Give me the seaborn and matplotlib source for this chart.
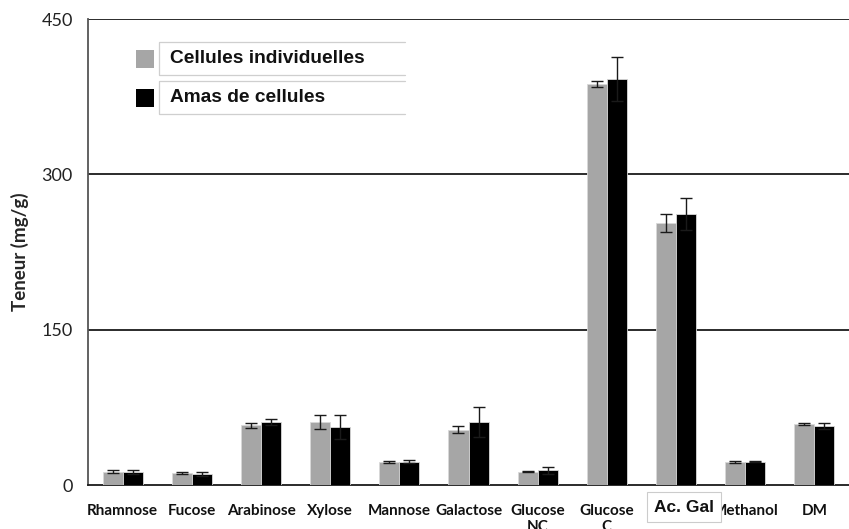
import numpy as np
import pandas as pd
import matplotlib
matplotlib.use("Agg")
import matplotlib.pyplot as plt
from matplotlib.patches import Rectangle
from matplotlib.lines import Line2D
import seaborn as sns

# Sugar composition data (mg/g)
categories = ["Rhamnose", "Fucose", "Arabinose", "Xylose", "Mannose", "Galactose",
              "Glucose\nNC", "Glucose\nC", "Ac. Gal", "Methanol", "DM"]
series = ["Cellules individuelles", "Amas de cellules"]
single_vals = [13, 11.3, 57.5, 61, 22, 53.5, 13, 387, 253, 22.2, 59.2]
single_err = [1.2, 1.0, 2.0, 6.5, 0.8, 3.0, 0.8, 3.0, 8.5, 0.8, 0.8]
cluster_vals = [12.8, 10.5, 60.5, 56, 22.6, 60.5, 14.3, 392, 261.5, 22.5, 57]
cluster_err = [1.8, 1.6, 3.0, 12.0, 1.5, 14.5, 3.5, 21.5, 15.5, 0.6, 3.0]
yticks_major = [0, 150, 300, 450]

W, H = 849, 529
fig = plt.figure(figsize=(W / 100, H / 100), dpi=100)
sns.set_style("white")

def fx(x):
    return x / W

def fy(y):
    return 1 - y / H

ax_left, ax_top, ax_bottom = 88, 19, 485
cat_w = 70.0
ax = fig.add_axes([fx(ax_left), fy(ax_bottom), (W - ax_left) / W, (ax_bottom - ax_top) / H])

df = pd.DataFrame({
    "cat": categories * 2,
    "serie": [series[0]] * len(categories) + [series[1]] * len(categories),
    "val": single_vals + cluster_vals,
    "err": single_err + cluster_err,
})

palette = {series[0]: "#a6a6a6", series[1]: "#000000"}
sns.barplot(data=df, x="cat", y="val", hue="serie", order=categories, hue_order=series,
            palette=palette, errorbar=None, width=0.58, gap=0, saturation=1,
            linewidth=0.6, edgecolor="#d9d9d9", legend=False, ax=ax, zorder=3)

# Error bars at the centre of each bar
bars = [p for p in ax.patches if isinstance(p, Rectangle)]
n = len(categories)
for i, p in enumerate(bars[:2 * n]):
    err = df["err"].iloc[i]
    xc = p.get_x() + p.get_width() / 2
    ax.errorbar(xc, p.get_height(), yerr=err, fmt="none", ecolor="#1a1a1a",
                elinewidth=1.0, capsize=4, capthick=1.0, zorder=4)

ax.set_ylim(0, 450)
ax.set_xlim(-0.5, -0.5 + (W - ax_left) / cat_w)
ax.set_yticks(yticks_major)
ax.set_yticks(np.arange(0, 451, 50), minor=True)
for v in [150, 300, 450]:
    ax.axhline(v, color="#1a1a1a", lw=1.3, zorder=2)

ax.set_xticks(np.arange(-0.5, n + 0.5, 1.0), minor=True)
ax.set_xticks(range(n))
labels = [c if c != "Ac. Gal" else "" for c in categories]
ax.set_xticklabels(labels, fontfamily="Lato", fontweight="bold", fontsize=11,
                   color="#111111", linespacing=1.1, va="top")
ax.tick_params(axis="x", which="major", length=0, pad=14)
ax.tick_params(axis="x", which="minor", length=5, width=1, color="#444444", direction="out")
ax.tick_params(axis="y", which="both", length=4, width=1, color="#444444", direction="out")
ax.set_yticklabels([str(v) for v in yticks_major], fontfamily="Lato", fontsize=13, color="#222222")
ax.tick_params(axis="y", pad=7)

for s in ["top", "right"]:
    ax.spines[s].set_visible(False)
ax.spines["left"].set_color("#555555")
ax.spines["left"].set_linewidth(1.3)
ax.spines["bottom"].set_color("#1a1a1a")
ax.spines["bottom"].set_linewidth(1.3)

ax.set_xlabel("")
ax.set_ylabel("Teneur (mg/g)", fontfamily="Lato", fontweight="bold", fontsize=13.5, labelpad=9)

# "Ac. Gal" label in its own white box
fig.text(fx(684), fy(507), "Ac. Gal", ha="center", va="center", fontfamily="Liberation Sans",
         fontweight="bold", fontsize=12.5, color="#111111",
         bbox=dict(boxstyle="square,pad=0.42", fc="white", ec="#cccccc", lw=0.8))

# Legend drawn as square swatches and open boxed labels
legend_rows = [(series[0], palette[series[0]], 42, 75), (series[1], palette[series[1]], 81, 114)]
for name, color, top, bottom in legend_rows:
    mid = (top + bottom) / 2
    fig.add_artist(Rectangle((fx(136), fy(mid + 9)), 18 / W, 18 / H, transform=fig.transFigure,
                             facecolor=color, edgecolor="none"))
    xs = [fx(405), fx(159), fx(159), fx(405)]
    ys = [fy(top), fy(top), fy(bottom), fy(bottom)]
    fig.add_artist(Line2D(xs, ys, transform=fig.transFigure, color="#cfcfcf", lw=0.9))
    fig.text(fx(170), fy(mid), name, ha="left", va="center", fontfamily="Liberation Sans",
             fontweight="bold", fontsize=13.8, color="#111111")

fig.savefig("out.png", dpi=100)
